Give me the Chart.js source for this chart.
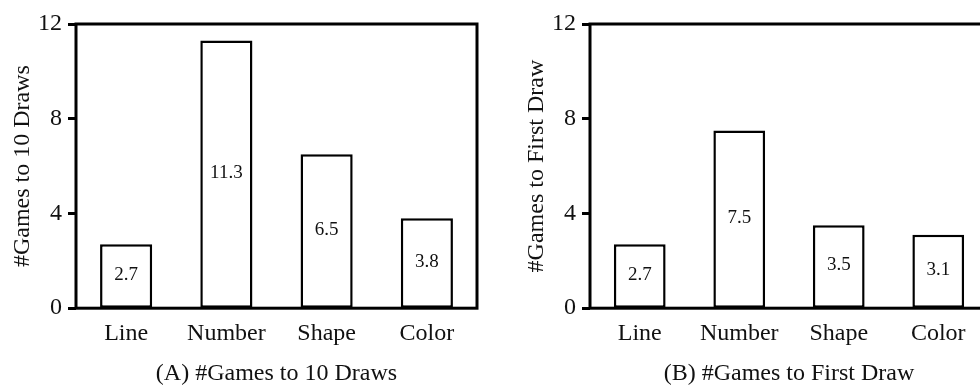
<!DOCTYPE html>
<html>
<head>
<meta charset="utf-8">
<script src="https://cdn.jsdelivr.net/npm/chart.js@4/dist/chart.umd.min.js"></script>
<style>
  html, body { margin: 0; padding: 0; background: #fff; }
  body { width: 980px; height: 388px; overflow: hidden; position: relative; }
  .panel { position: absolute; top: 0; width: 490px; height: 388px; }
  #panelA { left: 0; }
  #panelB { left: 514px; }
</style>
</head>
<body>
<div class="panel" id="panelA"><canvas id="chartA" width="490" height="388"></canvas></div>
<div class="panel" id="panelB"><canvas id="chartB" width="490" height="388"></canvas></div>
<script>
// Feature categories shared by both panels
const categories = ['Line', 'Number', 'Shape', 'Color'];
// Average number of games until ten draws, per feature
const gamesToTenDraws = [2.7, 11.3, 6.5, 3.8];
// Average number of games until the first draw, per feature
const gamesToFirstDraw = [2.7, 7.5, 3.5, 3.1];
// Y axis range and tick spacing
const yMin = 0;
const yMax = 12;
const yStep = 4;

const FONT = "'Liberation Serif', 'Times New Roman', serif";
const INK = '#111';
const TEXT_SIZE = 24;

// Outline of the plot area plus the value written in the middle of each bar
const frameAndLabels = {
  id: 'frameAndLabels',
  afterDatasetsDraw(chart) {
    const ctx = chart.ctx;
    const area = chart.chartArea;
    ctx.save();
    ctx.strokeStyle = '#000';
    ctx.lineWidth = 3;
    ctx.strokeRect(area.left, area.top, area.right - area.left, area.bottom - area.top);

    const meta = chart.getDatasetMeta(0);
    const values = chart.data.datasets[0].data;
    ctx.fillStyle = INK;
    ctx.font = "19px " + FONT;
    ctx.textAlign = 'center';
    ctx.textBaseline = 'middle';
    meta.data.forEach((bar, i) => {
      const y = (bar.y + bar.base) / 2 - 1;
      ctx.fillText(values[i].toFixed(1), bar.x, y);
    });
    ctx.restore();
  }
};

function makeChart(canvasId, values, axisTitle, caption, rightPad) {
  return new Chart(document.getElementById(canvasId), {
    type: 'bar',
    data: {
      labels: categories,
      datasets: [{
        data: values,
        backgroundColor: '#fff',
        borderColor: '#000',
        borderWidth: 2.5,
        borderSkipped: false,
        barPercentage: 0.52,
        categoryPercentage: 1.0
      }]
    },
    options: {
      responsive: false,
      animation: false,
      events: [],
      layout: { padding: { top: 24, right: rightPad, left: 0, bottom: 0 } },
      plugins: {
        legend: { display: false },
        tooltip: { enabled: false },
        title: {
          display: true,
          position: 'bottom',
          fullSize: false,
          text: caption,
          color: INK,
          font: { family: FONT, size: TEXT_SIZE, weight: 'normal' },
          padding: { top: 0, bottom: 0 }
        }
      },
      scales: {
        x: {
          grid: { display: false, drawTicks: false },
          border: { display: false },
          ticks: {
            color: INK,
            padding: 11,
            font: { family: FONT, size: TEXT_SIZE }
          },
          afterFit(scale) { scale.height = 51; }
        },
        y: {
          min: yMin,
          max: yMax,
          grid: {
            display: true,
            drawOnChartArea: false,
            drawTicks: true,
            tickLength: 8,
            tickWidth: 3,
            tickColor: '#000'
          },
          border: { display: false },
          ticks: {
            stepSize: yStep,
            color: INK,
            padding: 6,
            font: { family: FONT, size: TEXT_SIZE }
          },
          title: {
            display: true,
            text: axisTitle,
            color: INK,
            font: { family: FONT, size: TEXT_SIZE },
            padding: { top: 8, bottom: 0 }
          },
          afterFit(scale) { scale.width = 76; }
        }
      }
    },
    plugins: [frameAndLabels]
  });
}

makeChart('chartA', gamesToTenDraws, '#Games to 10 Draws', '(A) #Games to 10 Draws', 13);
makeChart('chartB', gamesToFirstDraw, '#Games to First Draw', '(B) #Games to First Draw', 16);
</script>
</body>
</html>
